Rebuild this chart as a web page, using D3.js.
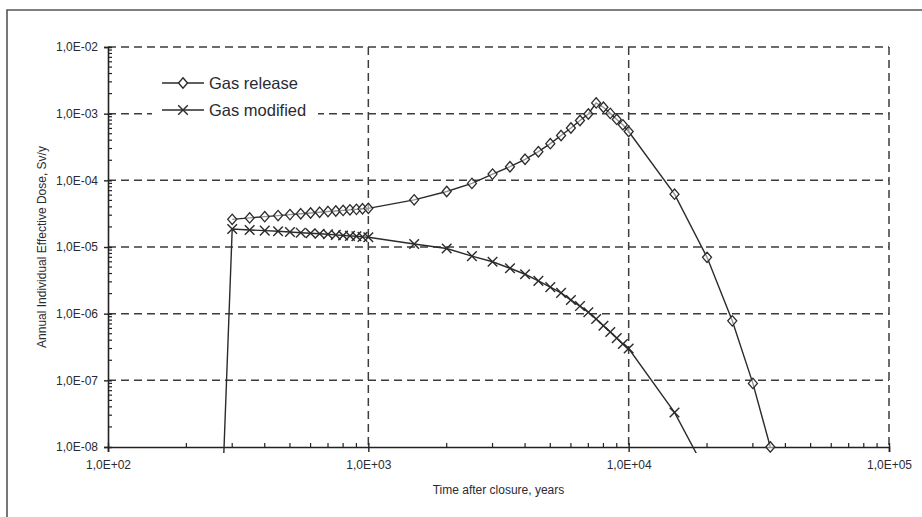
<!DOCTYPE html>
<html>
<head>
<meta charset="utf-8">
<script src="https://cdn.jsdelivr.net/npm/d3@7"></script>
<style>
  body { margin: 0; background: #fff; }
  text { font-family: "Liberation Sans", Arial, sans-serif; fill: #2a2a33; }
</style>
</head>
<body>
<div id="chart"></div>
<script>
// data
var releaseYears = [300, 350, 400, 450, 500, 550, 600, 650, 700, 750, 800, 850, 900, 950, 1000,
    1500, 2000, 2500, 3000, 3500, 4000, 4500, 5000, 5500, 6000, 6500, 7000, 7500,
    8000, 8500, 9000, 9500, 10000, 15000, 20000, 25000, 30000, 35000];
var releaseDose = [2.6e-5, 2.73e-5, 2.85e-5, 2.96e-5, 3.06e-5, 3.15e-5, 3.24e-5, 3.32e-5, 3.4e-5, 3.47e-5,
    3.54e-5, 3.61e-5, 3.67e-5, 3.74e-5, 3.8e-5,
    5.1e-5, 6.8e-5, 9.0e-5, 1.24e-4, 1.6e-4, 2.07e-4, 2.69e-4, 3.55e-4, 4.7e-4, 6.1e-4, 7.9e-4, 9.9e-4, 1.45e-3,
    1.25e-3, 1.01e-3, 8.2e-4, 6.8e-4, 5.4e-4, 6.2e-5, 7.0e-6, 7.8e-7, 9.0e-8, 1.0e-8];

var modifiedYears = [250, 300, 350, 400, 450, 500, 550, 600, 650, 700, 750, 800, 850, 900, 950, 1000,
    1500, 2000, 2500, 3000, 3500, 4000, 4500, 5000, 5500, 6000, 6500, 7000, 7500,
    8000, 8500, 9000, 9500, 10000, 15000, 20000];
var modifiedDose = [1e-13, 1.86e-5, 1.8e-5, 1.76e-5, 1.72e-5, 1.68e-5, 1.64e-5, 1.61e-5, 1.58e-5, 1.55e-5,
    1.52e-5, 1.49e-5, 1.47e-5, 1.45e-5, 1.42e-5, 1.4e-5,
    1.11e-5, 9.5e-6, 7.3e-6, 6.0e-6, 4.8e-6, 3.9e-6, 3.1e-6, 2.5e-6, 2.05e-6, 1.6e-6, 1.3e-6, 1.05e-6, 8.3e-7,
    6.6e-7, 5.3e-7, 4.3e-7, 3.5e-7, 3.0e-7, 3.3e-8, 4.0e-9];

var xTicks = [1e2, 1e3, 1e4, 1e5];
var yTicks = [1e-8, 1e-7, 1e-6, 1e-5, 1e-4, 1e-3, 1e-2];
var legendNames = ["Gas release", "Gas modified"];

var svgWidth = 922;
var svgHeight = 517;
var plot = { left: 108, right: 889, top: 47, bottom: 447 };

var svg = d3.select("#chart")
    .append("svg")
    .attr("width", svgWidth)
    .attr("height", svgHeight);

svg.append("rect")
    .attr("width", svgWidth)
    .attr("height", svgHeight)
    .attr("fill", "#fff");

// outer frame (only left and top edge show in the picture)
svg.append("path")
    .attr("d", `M7,${svgHeight}V10H${svgWidth}`)
    .attr("fill", "none")
    .attr("stroke", "#555")
    .attr("stroke-width", 1.6);

var x = d3.scaleLog().domain([1e2, 1e5]).range([plot.left, plot.right]);
var y = d3.scaleLog().domain([1e-8, 1e-2]).range([plot.bottom, plot.top]);

// 1,0E-05 style labels
function sciLabel(d) {
    var e = Math.round(Math.log10(d));
    return "1,0E" + (e < 0 ? "-" : "+") + String(Math.abs(e)).padStart(2, "0");
}

// minor tick positions 2..9 in each decade
function minors(scale) {
    var out = [];
    var dom = scale.domain();
    for (var p = Math.log10(dom[0]); p < Math.log10(dom[1]); p++) {
        for (var k = 2; k <= 9; k++) out.push(k * Math.pow(10, p));
    }
    return out;
}

// dashed grid
var grid = svg.append("g")
    .attr("stroke", "#3c3c3c")
    .attr("stroke-width", 1.5)
    .attr("stroke-dasharray", "8,5");

grid.selectAll(".hgrid").data(yTicks.slice(1))
    .enter()
    .append("line")
    .attr("x1", plot.left)
    .attr("x2", plot.right)
    .attr("y1", d => y(d))
    .attr("y2", d => y(d));

grid.selectAll(".vgrid").data(xTicks.slice(1))
    .enter()
    .append("line")
    .attr("x1", d => x(d))
    .attr("x2", d => x(d))
    .attr("y1", plot.top)
    .attr("y2", plot.bottom);

// axes
var bottomAxis = d3.axisBottom(x).tickValues(xTicks).tickFormat(sciLabel).tickSize(5).tickPadding(8);
var leftAxis = d3.axisLeft(y).tickValues(yTicks).tickFormat(sciLabel).tickSize(4).tickPadding(6);

var xAxisG = svg.append("g")
    .attr("transform", `translate(0, ${plot.bottom})`)
    .call(bottomAxis);

var yAxisG = svg.append("g")
    .attr("transform", `translate(${plot.left}, 0)`)
    .call(leftAxis);

[xAxisG, yAxisG].forEach(function(g) {
    g.select(".domain").attr("stroke", "#222").attr("stroke-width", 1.6);
    g.selectAll(".tick line").attr("stroke", "#222").attr("stroke-width", 1.4);
    g.selectAll(".tick text")
        .attr("fill", "#2a2a33")
        .style("font-family", '"Liberation Sans", Arial, sans-serif')
        .style("font-size", "12px");
});

// major ticks cross the axis a little
yAxisG.selectAll(".tick line").attr("x1", 4);
xAxisG.selectAll(".tick line").attr("y1", -4);

// minor ticks on the inside
svg.append("g").selectAll("line")
    .data(minors(y))
    .enter()
    .append("line")
    .attr("x1", plot.left)
    .attr("x2", plot.left + 4)
    .attr("y1", d => y(d))
    .attr("y2", d => y(d))
    .attr("stroke", "#222")
    .attr("stroke-width", 1.2);

svg.append("g").selectAll("line")
    .data(minors(x))
    .enter()
    .append("line")
    .attr("x1", d => x(d))
    .attr("x2", d => x(d))
    .attr("y1", plot.bottom)
    .attr("y2", plot.bottom - 4)
    .attr("stroke", "#222")
    .attr("stroke-width", 1.2);

// clip series to the plot box
svg.append("clipPath")
    .attr("id", "plotclip")
    .append("rect")
    .attr("x", plot.left)
    .attr("y", plot.top)
    .attr("width", plot.right - plot.left)
    .attr("height", plot.bottom - plot.top + 6);

var release = releaseYears.map((t, i) => ({ t: t, v: releaseDose[i] }));
var modified = modifiedYears.map((t, i) => ({ t: t, v: modifiedDose[i] }));

var line = d3.line().x(d => x(d.t)).y(d => y(d.v));

// legend box, white, sits over the grid
svg.append("rect")
    .attr("x", 152)
    .attr("y", 66)
    .attr("width", 166)
    .attr("height", 58)
    .attr("fill", "#fff");

var series = svg.append("g").attr("clip-path", "url(#plotclip)");

series.append("path")
    .datum(modified)
    .attr("d", line)
    .attr("fill", "none")
    .attr("stroke", "#2b2b2b")
    .attr("stroke-width", 1.4);

series.append("path")
    .datum(release)
    .attr("d", line)
    .attr("fill", "none")
    .attr("stroke", "#2b2b2b")
    .attr("stroke-width", 1.4);

// marker shapes
function diamond(cx, cy) {
    return `M${cx},${cy - 5.2}L${cx + 4.5},${cy}L${cx},${cy + 5.2}L${cx - 4.5},${cy}Z`;
}
function cross(cx, cy) {
    var s = 4.8;
    return `M${cx - s},${cy - s}L${cx + s},${cy + s}M${cx - s},${cy + s}L${cx + s},${cy - s}`;
}

series.selectAll(".xmark")
    .data(modified.filter(d => d.v >= 1e-8))
    .enter()
    .append("path")
    .attr("d", d => cross(x(d.t), y(d.v)))
    .attr("fill", "none")
    .attr("stroke", "#2b2b2b")
    .attr("stroke-width", 1.4);

series.selectAll(".dmark")
    .data(release)
    .enter()
    .append("path")
    .attr("d", d => diamond(x(d.t), y(d.v)))
    .attr("fill", "#fff")
    .attr("fill-opacity", 0.5)
    .attr("stroke", "#2b2b2b")
    .attr("stroke-width", 1.3);

// legend entries
var legend = svg.append("g");
var legendY = [83, 110];

legendNames.forEach(function(name, i) {
    var ly = legendY[i];
    legend.append("line")
        .attr("x1", 162).attr("x2", 204)
        .attr("y1", ly).attr("y2", ly)
        .attr("stroke", "#2b2b2b")
        .attr("stroke-width", 1.4);
    legend.append("path")
        .attr("d", i === 0 ? diamond(183, ly) : cross(183, ly))
        .attr("fill", i === 0 ? "#fff" : "none")
        .attr("stroke", "#2b2b2b")
        .attr("stroke-width", 1.4);
    legend.append("text")
        .attr("x", 209)
        .attr("y", ly)
        .attr("dy", "0.35em")
        .style("font-size", "16.5px")
        .text(name);
});

// axis titles
svg.append("text")
    .attr("x", (plot.left + plot.right) / 2)
    .attr("y", 490)
    .attr("dy", "0.35em")
    .attr("text-anchor", "middle")
    .style("font-size", "12px")
    .text("Time after closure, years");

svg.append("text")
    .attr("transform", `translate(42, ${(plot.top + plot.bottom) / 2}) rotate(-90)`)
    .attr("dy", "0.35em")
    .attr("text-anchor", "middle")
    .style("font-size", "12px")
    .text("Annual Individual Effective Dose, Sv/y");
</script>
</body>
</html>
